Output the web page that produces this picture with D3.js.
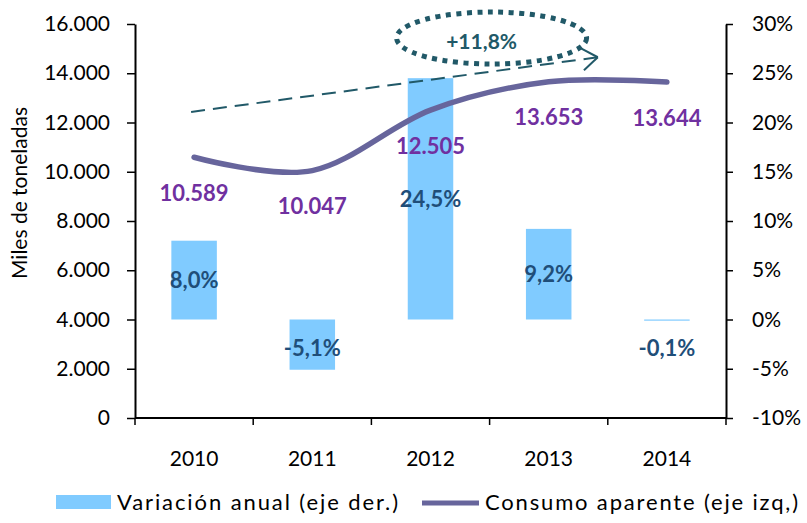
<!DOCTYPE html>
<html>
<head>
<meta charset="utf-8">
<script src="https://cdn.jsdelivr.net/npm/d3@7"></script>
<style>
  body { margin: 0; background: #fff; }
  text { font-family: Lato, "Open Sans", sans-serif; }
</style>
</head>
<body>
<div id="chart"></div>
<script>
const years = ['2010', '2011', '2012', '2013', '2014'];
const consumo = [10589, 10047, 12505, 13653, 13644];
const variacion = [8.0, -5.1, 24.5, 9.2, -0.1];
const leftTicks = [0, 2000, 4000, 6000, 8000, 10000, 12000, 14000, 16000];
const rightTicks = [-10, -5, 0, 5, 10, 15, 20, 25, 30];
const trendLabel = '+11,8%';
const legendLabels = ['Variación anual (eje der.)', 'Consumo aparente (eje izq,)'];

const width = 807;
const height = 523;
const plotLeft = 135, plotRight = 726, plotTop = 24, plotBottom = 418;

const es = d3.formatLocale({ decimal: ',', thousands: '.', grouping: [3], currency: ['', ' €'], minus: '-' });
const fmtInt = es.format(',d');
const fmtPct = es.format('.1f');

const x = d3.scaleBand().domain(years).range([plotLeft, plotRight]);
const yLeft = d3.scaleLinear().domain([0, 16000]).range([plotBottom, plotTop]);
const yRight = d3.scaleLinear().domain([-10, 30]).range([plotBottom, plotTop]);

const svg = d3.select('#chart').append('svg')
    .attr('width', width)
    .attr('height', height);

// bars (right axis)
const barW = x.bandwidth() * 0.385;
svg.selectAll('.bar')
   .data(variacion)
   .enter()
   .append('rect')
   .attr('class', 'bar')
   .attr('x', (d, i) => x(years[i]) + x.bandwidth() / 2 - barW / 2)
   .attr('y', d => Math.min(yRight(d), yRight(0)))
   .attr('width', barW)
   .attr('height', d => Math.max(1.2, Math.abs(yRight(d) - yRight(0))))
   .attr('fill', '#80cbff');

// axes
const axisLeft = d3.axisLeft(yLeft).tickValues(leftTicks)
    .tickFormat(fmtInt).tickSize(8).tickSizeOuter(0).tickPadding(17);
const gL = svg.append('g').attr('transform', `translate(${plotLeft},0)`).call(axisLeft);

const axisRight = d3.axisRight(yRight).tickValues(rightTicks)
    .tickFormat(d => d + '%').tickSize(7).tickSizeOuter(0).tickPadding(19);
const gR = svg.append('g').attr('transform', `translate(${plotRight},0)`).call(axisRight);

const gX = svg.append('g').attr('transform', `translate(0,${plotBottom})`);
gX.append('line').attr('x1', plotLeft).attr('x2', plotRight).attr('stroke', '#000').attr('stroke-width', 2);
gX.selectAll('.xt')
  .data(years.map(y => x(y)).concat([x.range()[1]]))
  .enter()
  .append('line')
  .attr('x1', d => d).attr('x2', d => d)
  .attr('y1', 0).attr('y2', 7)
  .attr('stroke', '#000').attr('stroke-width', 1.5);
gX.selectAll('.xl')
  .data(years)
  .enter()
  .append('text')
  .attr('x', d => x(d) + x.bandwidth() / 2)
  .attr('y', 41)
  .attr('dy', '0.35em')
  .attr('text-anchor', 'middle')
  .attr('font-size', 21)
  .attr('fill', '#000')
  .text(d => d);

[gL, gR].forEach(g => {
    g.select('.domain').attr('stroke', '#000').attr('stroke-width', 2);
    g.selectAll('.tick line').attr('stroke', '#000').attr('stroke-width', 1.5);
    g.selectAll('.tick text').attr('font-size', 21).attr('fill', '#000')
     .style('font-family', 'Lato, sans-serif');
});
gR.selectAll('.tick text').attr('text-anchor', 'start');

svg.append('text')
   .attr('transform', `translate(20,${(plotTop + plotBottom) / 2 - 28}) rotate(-90)`)
   .attr('text-anchor', 'middle')
   .attr('dy', '0.35em')
   .attr('font-size', 21)
   .attr('fill', '#000')
   .text('Miles de toneladas');

// line (left axis)
const line = d3.line()
    .x((d, i) => x(years[i]) + x.bandwidth() / 2)
    .y(d => yLeft(d))
    .curve(d3.curveCardinal.tension(0));
svg.append('path')
   .datum(consumo)
   .attr('d', line)
   .attr('fill', 'none')
   .attr('stroke', '#67659c')
   .attr('stroke-width', 5.5)
   .attr('stroke-linecap', 'round');

// trend annotation
const tealC = '#215968';
const p0 = [x('2010') + x.bandwidth() / 2 - 3, yLeft(12430)];
const p1 = [x('2014') - 10, yLeft(14650)];
svg.append('line')
   .attr('x1', p0[0]).attr('y1', p0[1])
   .attr('x2', p1[0]).attr('y2', p1[1])
   .attr('stroke', tealC).attr('stroke-width', 2)
   .attr('stroke-dasharray', '14,8');
const ang = Math.atan2(p1[1] - p0[1], p1[0] - p0[0]);
[0.62, -0.62].forEach(a => {
    svg.append('line')
       .attr('x1', p1[0]).attr('y1', p1[1])
       .attr('x2', p1[0] - 19 * Math.cos(ang + a))
       .attr('y2', p1[1] - 19 * Math.sin(ang + a))
       .attr('stroke', tealC).attr('stroke-width', 2);
});
svg.append('ellipse')
   .attr('cx', x('2013') + 2).attr('cy', yLeft(15430))
   .attr('rx', 95).attr('ry', 26)
   .attr('fill', 'none')
   .attr('stroke', tealC).attr('stroke-width', 5)
   .attr('stroke-dasharray', '5,5.5');
svg.append('text')
   .attr('x', x('2013') - 8).attr('y', yLeft(15430) + 4)
   .attr('dy', '0.35em')
   .attr('text-anchor', 'middle')
   .attr('font-size', 21).attr('font-weight', 'bold')
   .attr('fill', tealC)
   .text(trendLabel);

// data labels
svg.selectAll('.lbl-c')
   .data(consumo)
   .enter()
   .append('text')
   .attr('x', (d, i) => x(years[i]) + x.bandwidth() / 2)
   .attr('y', d => yLeft(d) + 36)
   .attr('dy', '0.35em')
   .attr('text-anchor', 'middle')
   .attr('font-size', 22).attr('font-weight', 'bold')
   .attr('fill', '#7030a0')
   .text(d => fmtInt(d));

svg.selectAll('.lbl-v')
   .data(variacion)
   .enter()
   .append('text')
   .attr('x', (d, i) => x(years[i]) + x.bandwidth() / 2)
   .attr('y', d => d < 0 ? yRight(0) + 29 : (yRight(d) + yRight(0)) / 2)
   .attr('dy', '0.35em')
   .attr('text-anchor', 'middle')
   .attr('font-size', 22).attr('font-weight', 'bold')
   .attr('fill', '#1f4e79')
   .text(d => fmtPct(d) + '%');

// legend
const lg = svg.append('g');
lg.append('rect').attr('x', 56).attr('y', 495).attr('width', 55).attr('height', 14).attr('fill', '#80cbff');
lg.append('text').attr('x', 117).attr('y', 502).attr('dy', '0.35em')
  .attr('font-size', 22).attr('fill', '#000')
  .attr('textLength', 281).attr('lengthAdjust', 'spacing')
  .text(legendLabels[0]);
lg.append('line').attr('x1', 422).attr('x2', 479).attr('y1', 503).attr('y2', 503)
  .attr('stroke', '#67659c').attr('stroke-width', 5);
lg.append('text').attr('x', 485).attr('y', 502).attr('dy', '0.35em')
  .attr('font-size', 22).attr('fill', '#000')
  .attr('textLength', 313).attr('lengthAdjust', 'spacing')
  .text(legendLabels[1]);
</script>
</body>
</html>
